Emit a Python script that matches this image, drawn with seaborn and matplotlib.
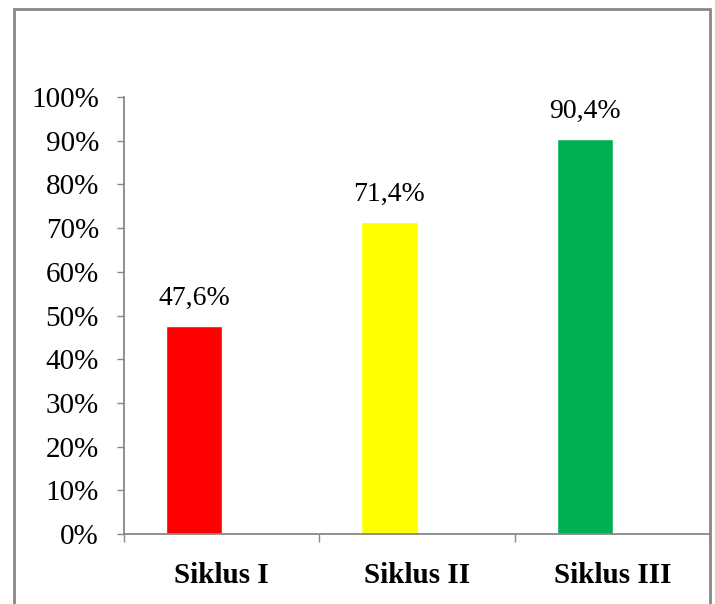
import numpy as np
import pandas as pd
import matplotlib
matplotlib.use('Agg')
import matplotlib.pyplot as plt
from matplotlib.patches import Rectangle
from matplotlib.ticker import FixedLocator, PercentFormatter
import seaborn as sns

# data
categories = ['Siklus I', 'Siklus II', 'Siklus III']
values = [47.6, 71.4, 90.4]
value_labels = ['47,6%', '71,4%', '90,4%']
colors = ['#FF0000', '#FFFF00', '#00B050']

df = pd.DataFrame({'Siklus': categories, 'Persen': values})

sns.set_style('white')
plt.rcParams['font.family'] = ['Liberation Serif', 'DejaVu Serif']
plt.rcParams['text.color'] = 'black'
plt.rcParams['xtick.labelcolor'] = 'black'
plt.rcParams['ytick.labelcolor'] = 'black'

fig = plt.figure(figsize=(7.15, 6.04), dpi=100)
ax = fig.add_axes([124 / 715, 70 / 604, 586 / 715, 437 / 604])

bar_w = 56 / 195
sns.barplot(data=df, x='Siklus', y='Persen', hue='Siklus', palette=colors,
            legend=False, width=bar_w, saturation=1, ax=ax)

# bars sit left of the category centre (Excel-style cluster with empty 2nd series)
shift = 27.5 / 195
ax.set_xlim(-0.5 + shift, 2.5 + shift)
ax.set_ylim(0, 100)

for i, (v, lab) in enumerate(zip(values, value_labels)):
    ax.annotate(lab, (i, v), xytext=(0, 11), textcoords='offset points',
                ha='center', va='bottom', fontsize=20, color='black')

grey = '#878787'
sns.despine(ax=ax, top=True, right=True)
for s in ['left', 'bottom']:
    ax.spines[s].set_color(grey)
    ax.spines[s].set_linewidth(1.3)

ax.yaxis.set_major_locator(FixedLocator(np.arange(0, 101, 10)))
ax.yaxis.set_major_formatter(PercentFormatter(decimals=0))
ax.tick_params(axis='y', direction='out', length=5, width=1, color=grey,
               pad=13, labelsize=21, labelcolor='black', left=True)

# x: tick marks at category boundaries, labels at category centres
bounds = np.arange(4) - 0.5 + shift
centres = np.arange(3) + shift
ax.xaxis.set_major_locator(FixedLocator(bounds))
ax.xaxis.set_minor_locator(FixedLocator(centres))
ax.set_xticklabels([''] * 4)
ax.set_xticklabels(categories, minor=True, fontweight='bold', fontsize=21,
                   color='black')
ax.tick_params(axis='x', which='major', direction='out', length=6, width=1,
               color=grey, bottom=True)
ax.tick_params(axis='x', which='minor', length=0, pad=20, bottom=True)

ax.set_xlabel('')
ax.set_ylabel('')

# outer chart border
fig.patches.append(Rectangle((14 / 715, -0.05), 696 / 715, 1.05 - 9 / 604,
                             transform=fig.transFigure, fill=False,
                             edgecolor=grey, linewidth=2, clip_on=False))

fig.savefig('out.png', dpi=100)
